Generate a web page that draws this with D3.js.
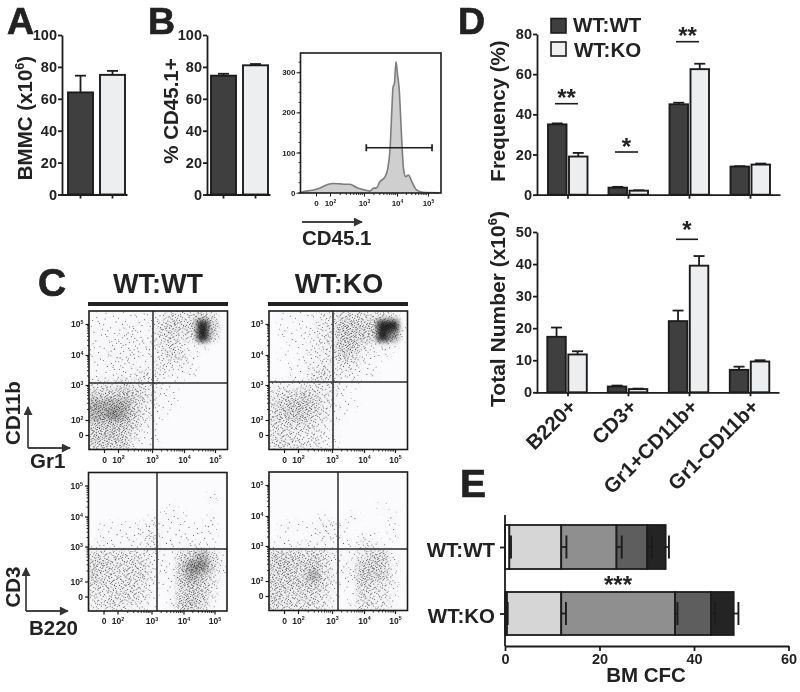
<!DOCTYPE html>
<html><head><meta charset="utf-8">
<script src="https://cdn.jsdelivr.net/npm/d3@7"></script>
<style>
html,body{margin:0;padding:0;background:#fff}
svg{display:block;filter:blur(0.35px)}
text{font-family:"Liberation Sans",Arial,sans-serif;font-weight:bold;fill:#222}
</style></head><body>
<script>
// ---------- data ----------
const bmmc = [64, 75], bmmcErr = [10.5, 2.5];
const cd451 = [74.5, 81], cd451Err = [1.2, 0.8];
const lineages = ["B220+", "CD3+", "Gr1+CD11b+", "Gr1-CD11b+"];
const freqWT = [35, 3.5, 45, 14], freqWTErr = [0.5, 0.4, 0.8, 0.2];
const freqKO = [19, 2, 62.5, 15], freqKOErr = [1.8, 0.2, 2.7, 0.5];
const totalWT = [17.3, 1.8, 22.2, 7], totalWTErr = [2.9, 0.3, 3.3, 1];
const totalKO = [11.8, 1, 39.5, 9.6], totalKOErr = [1, 0.15, 3, 0.4];
const histDecade = [-0.1,0.02,0.72,1.3,1.88,2.1,2.29,2.44,2.58,2.78,2.97,3.18,3.28,3.38,3.48,3.64,3.72,3.79,3.85,3.88,3.92,3.97,4.02,4.07,4.14,4.21,4.28,4.37,4.47,4.63,4.84,5.37];
const histCount  = [0,2,6,12,21,23,22,21,21,13,8,4,11,12,27,40,60,110,217,263,271,326,292,259,151,60,40,44,29,7,1,0];
const gate = [3.07, 5.13], gateCount = 112;
const cfcGroups = ["WT:WT", "WT:KO"];
const cfcColors = ["#ffffff", "#d6d6d6", "#8f8f8f", "#5e5e5e", "#242424"];
const cfcWT = [0.92, 10.98, 11.7, 6.5, 3.9];
const cfcKO = [0.42, 11.48, 24.1, 7.6, 4.8];
const cfcWTErr = [0.35, 1.1, 1.1, 1.0, 0.7];
const cfcKOErr = [0.15, 1.0, 0.5, 0.9, 1.0];
// hand-read darkness of each flow plot on a 14 x 14 grid (0 empty .. 9 solid)
const gridGr1WT = ["11111112434530","11112124545960","11122124434950","11222223421200","11222123431000","11221113221000","11122332111000","33343331100000","55565421100000","77775321100000","77875311000000","66664210000000","66653110000000","55552110000000"];
const gridGr1KO = ["01111234443430","01011336656991","01112336655981","00112336632210","01012235421100","00112323311000","00113432211000","22223331100000","34454321000000","45665321100000","45664311000000","44443210000000","34333210000000","44433210000000"];
const gridCd3WT = ["00000000000000","00000000000000","00000000000010","00000000100000","00000011110010","01111221111110","01111231111110","22111131112210","44444321146741","55444421168851","54444421167631","44444311156530","33444310156520","33432210166410"];
const gridCd3KO = ["00000000000000","00000000000000","00000000000000","00000000000100","00000100100010","01111221000010","01001221011010","11121111132100","55545421135510","56556421256520","55547421265520","55555421154320","54444310143310","54444310143310"];
const decades = [1, 2, 3, 4, 5];
const decadeLabels = ["0", "10^2", "10^3", "10^4", "10^5"];
const histTicks = [0, 100, 200, 300];

// ---------- page ----------
const svg = d3.select("body").append("svg").attr("width", 800).attr("height", 692);
const defs = svg.append("defs");
const INK = "#1c1c1c", DARK = "#3f3f3f", LIGHT = "#eceef0";

function label(x, y, t, size, anchor, rot) {
  const s = svg.append("text").attr("font-size", size).attr("text-anchor", anchor || "start");
  if (rot !== undefined) s.attr("transform", `translate(${x},${y}) rotate(${rot})`);
  else s.attr("x", x).attr("y", y);
  return supText(s, t, size);
}
function supText(s, t, size) {
  const parts = t.split("^");
  s.text(null);
  s.append("tspan").text(parts[0]);
  if (parts[1]) {
    const m = parts[1].match(/^(\d)(.*)$/);
    s.append("tspan").attr("dy", -size * 0.38).attr("font-size", size * 0.62).text(m[1]);
    if (m[2]) s.append("tspan").attr("dy", size * 0.38).text(m[2]);
  }
  return s;
}
function styleAxis(g, size, w) {
  g.select(".domain").attr("stroke", INK).attr("stroke-width", w);
  g.selectAll(".tick line").attr("stroke", INK).attr("stroke-width", w);
  g.selectAll(".tick text").attr("font-size", size).attr("fill", "#222").attr("font-family", '"Liberation Sans",Arial,sans-serif').attr("font-weight", "bold");
}
function yAxis(x, scale, ticks) {
  const g = svg.append("g").attr("transform", `translate(${x},0)`)
    .call(d3.axisLeft(scale).tickValues(ticks).tickSize(4).tickSizeOuter(0).tickPadding(1));
  styleAxis(g, 14.5, 1.8);
  return g;
}
function xBaseline(x0, x1, y, ticks) {
  const s = d3.scaleIdentity().domain([x0, x1]);
  const g = svg.append("g").attr("transform", `translate(0,${y})`)
    .call(d3.axisBottom(s).tickValues(ticks).tickSize(4).tickSizeOuter(0).tickFormat(""));
  styleAxis(g, 14, 1.8);
}
function bar(x, w, yScale, v, e, fill) {
  const y0 = yScale(0), yT = yScale(v), yE = yScale(v + e), cx = x + w / 2;
  svg.append("line").attr("x1", cx).attr("x2", cx).attr("y1", yT).attr("y2", yE).attr("stroke", INK).attr("stroke-width", 1.8);
  svg.append("line").attr("x1", cx - 5.5).attr("x2", cx + 5.5).attr("y1", yE).attr("y2", yE).attr("stroke", INK).attr("stroke-width", 1.8);
  svg.append("rect").attr("x", x).attr("y", yT).attr("width", w).attr("height", y0 - yT)
    .attr("fill", fill).attr("stroke", INK).attr("stroke-width", 1.9);
}
function sig(x0, x1, y, stars, starY) {
  svg.append("line").attr("x1", x0).attr("x2", x1).attr("y1", y).attr("y2", y).attr("stroke", INK).attr("stroke-width", 1.6);
  label((x0 + x1) / 2, starY, stars, 24, "middle");
}

// ---------- panel letters ----------
label(7, 34, "A", 37.5).style("stroke", "#222").style("stroke-width", 0.7);
label(148, 34, "B", 37.5).style("stroke", "#222").style("stroke-width", 0.7);
label(38, 296, "C", 39).style("stroke", "#222").style("stroke-width", 0.7);
label(458, 34, "D", 37.5).style("stroke", "#222").style("stroke-width", 0.7);
label(460, 497, "E", 39).style("stroke", "#222").style("stroke-width", 0.7);

// ---------- A, B ----------
const yA = d3.scaleLinear().domain([0, 100]).range([194.5, 35]);
const tA = [0, 20, 40, 60, 80, 100];
function twoBars(axisX, vals, errs, x1, x2, tick1, tick2, end) {
  bar(x1, 25, yA, vals[0], errs[0], DARK);
  bar(x2, 25, yA, vals[1], errs[1], LIGHT);
  xBaseline(axisX - 2, end, 194.5, [tick1, tick2]);
  yAxis(axisX, yA, tA);
}
twoBars(62, bmmc, bmmcErr, 68, 100, 80, 112, 127);
twoBars(207, cd451, cd451Err, 211, 243, 223, 255, 270);
label(32, 118, "BMMC (x10^6)", 20.5, "middle", -90);
label(178, 111, "% CD45.1+", 20.5, "middle", -90);

// ---------- flow helpers ----------
function flowAxes(left, top, right, bottom, xS, yS, labelSize) {
  const minor = [];
  [2, 3, 4].forEach(d => d3.range(2, 10).forEach(m => minor.push(d + Math.log10(m))));
  const gx = svg.append("g").attr("transform", `translate(0,${bottom})`)
    .call(d3.axisBottom(xS).tickValues(decades).tickSize(3.5).tickSizeOuter(0).tickPadding(3.5));
  const gy = svg.append("g").attr("transform", `translate(${left},0)`)
    .call(d3.axisLeft(yS).tickValues(decades).tickSize(3.5).tickSizeOuter(0).tickPadding(2));
  [gx, gy].forEach(g => {
    styleAxis(g, labelSize, 1.2);
    g.select(".domain").attr("stroke", "none");
    g.selectAll(".tick text").each(function (d, i) { supText(d3.select(this), decadeLabels[i], labelSize); });
  });
  const mx = svg.append("g").attr("stroke", INK).attr("stroke-width", 0.9);
  minor.forEach(d => {
    mx.append("line").attr("x1", xS(d)).attr("x2", xS(d)).attr("y1", bottom).attr("y2", bottom + 2);
    mx.append("line").attr("y1", yS(d)).attr("y2", yS(d)).attr("x1", left).attr("x2", left - 2);
  });
}
// stipple texture: nine tiles of fine dots (Halton sequence, no randomness);
// a cell of darkness d shows d of the tiles, so a density reading thins or thickens the stipple
function halton(i, b) { let f = 1, r = 0; while (i > 0) { f /= b; r += f * (i % b); i = Math.floor(i / b); } return r; }
const tile = 59, dotsPerLevel = [90, 110, 170, 200, 200, 200, 200, 200, 200];
let dotIndex = 1;
d3.range(1, 10).forEach(level => {
  const p = defs.append("pattern").attr("id", "stipple" + level).attr("width", tile).attr("height", tile).attr("patternUnits", "userSpaceOnUse");
  d3.range(dotsPerLevel[level - 1]).forEach(() => {
    const i = dotIndex++;
    p.append("circle").attr("cx", halton(i, 2) * tile).attr("cy", halton(i, 3) * tile)
      .attr("r", 0.52).attr("fill", "#0a0a0a").attr("fill-opacity", 0.72);
  });
});
defs.append("filter").attr("id", "soft").attr("x", "-10%").attr("y", "-10%").attr("width", "120%").attr("height", "120%")
  .append("feGaussianBlur").attr("stdDeviation", 2.6);

function flowPlot(id, left, top, crossX, crossY, grid) {
  const w = 138.5, h = 138.5, right = left + w, bottom = top + h;
  const xS = d3.scaleLinear().domain(decades).range([left + 15, left + 29, left + 63, left + 95, left + 126]);
  const yS = d3.scaleLinear().domain(decades).range([top + 124, top + 109, top + 74, top + 44, top + 13]);
  const cellX = d3.scaleBand().domain(d3.range(14)).range([left, right]);
  const cellY = d3.scaleBand().domain(d3.range(14)).range([top, bottom]);
  defs.append("clipPath").attr("id", "clip" + id).append("rect").attr("x", left).attr("y", top).attr("width", w).attr("height", h);
  svg.append("rect").attr("x", left).attr("y", top).attr("width", w).attr("height", h).attr("fill", "#fbfbfd");
  const cells = [];
  grid.forEach((row, r) => row.split("").forEach((c, col) => cells.push({ r, col, d: +c })));
  const under = d3.scaleLinear().domain([0, 6, 8, 9]).range([0, 0.06, 0.3, 0.85]);
  const paint = (g, data, op, colour) => g.selectAll("rect").data(data).join("rect")
    .attr("x", c => cellX(c.col) - 0.5).attr("y", c => cellY(c.r) - 0.5)
    .attr("width", cellX.bandwidth() + 1).attr("height", cellY.bandwidth() + 1)
    .attr("fill", colour).attr("fill-opacity", op);
  const host = svg.append("g").attr("clip-path", `url(#clip${id})`);
  paint(host.append("g").attr("filter", "url(#soft)"), cells, c => under(c.d), "#111");
  d3.range(1, 10).forEach(level => {
    const mask = defs.append("mask").attr("id", `mask${id}${level}`).attr("maskUnits", "userSpaceOnUse")
      .attr("x", left).attr("y", top).attr("width", w).attr("height", h);
    paint(mask.append("g").attr("filter", "url(#soft)"), cells.filter(c => c.d >= level), 1, "#fff");
    host.append("rect").attr("x", left).attr("y", top).attr("width", w).attr("height", h)
      .attr("fill", `url(#stipple${level})`).attr("mask", `url(#mask${id}${level})`);
  });
  svg.append("line").attr("x1", crossX).attr("x2", crossX).attr("y1", top).attr("y2", bottom).attr("stroke", "#2a2a2a").attr("stroke-width", 1.5);
  svg.append("line").attr("x1", left).attr("x2", right).attr("y1", crossY).attr("y2", crossY).attr("stroke", "#2a2a2a").attr("stroke-width", 1.5);
  svg.append("rect").attr("x", left).attr("y", top).attr("width", w).attr("height", h).attr("fill", "none").attr("stroke", INK).attr("stroke-width", 1.6);
  flowAxes(left, top, right, bottom, xS, yS, 8.5);
}
flowPlot("a", 89, 311, 153, 383, gridGr1WT);
flowPlot("b", 269, 311, 333, 382, gridGr1KO);
flowPlot("c", 88.5, 472.5, 157, 549, gridCd3WT);
flowPlot("d", 269, 472, 338, 549, gridCd3KO);

// ---------- histogram ----------
const hx = d3.scaleLinear().domain(decades).range([316, 330, 364, 397, 428]);
const hy = d3.scaleLinear().domain([0, 300]).range([192.7, 72.3]);
const histPts = d3.zip(histDecade, histCount);
svg.append("path").datum(histPts)
  .attr("d", d3.area().x(d => hx(d[0])).y0(hy(0)).y1(d => hy(d[1])).curve(d3.curveMonotoneX))
  .attr("fill", "#cfcfcf");
svg.append("path").datum(histPts)
  .attr("d", d3.line().x(d => hx(d[0])).y(d => hy(d[1])).curve(d3.curveMonotoneX))
  .attr("fill", "none").attr("stroke", "#7d7d7d").attr("stroke-width", 1.6);
const gy = hy(gateCount);
svg.append("line").attr("x1", hx(gate[0])).attr("x2", hx(gate[1])).attr("y1", gy).attr("y2", gy).attr("stroke", INK).attr("stroke-width", 1.7);
gate.forEach(g => svg.append("line").attr("x1", hx(g)).attr("x2", hx(g)).attr("y1", gy - 3.5).attr("y2", gy + 3.5).attr("stroke", INK).attr("stroke-width", 1.7));
svg.append("rect").attr("x", 300.5).attr("y", 53).attr("width", 140.5).attr("height", 140).attr("fill", "none").attr("stroke", INK).attr("stroke-width", 1.6);
{
  const g = svg.append("g").attr("transform", "translate(300.5,0)")
    .call(d3.axisLeft(hy).tickValues(histTicks).tickSize(4).tickSizeOuter(0).tickPadding(1));
  styleAxis(g, 8, 1); g.select(".domain").attr("stroke", "none");
  const gb = svg.append("g").attr("transform", "translate(0,193)")
    .call(d3.axisBottom(hx).tickValues(decades).tickSize(3.5).tickSizeOuter(0).tickPadding(4));
  styleAxis(gb, 8, 1); gb.select(".domain").attr("stroke", "none");
  gb.selectAll(".tick text").each(function (d, i) { supText(d3.select(this), decadeLabels[i], 8); });
  const m = svg.append("g").attr("stroke", INK).attr("stroke-width", 0.9);
  [2, 3, 4].forEach(dk => d3.range(2, 10).forEach(k => {
    const d = dk + Math.log10(k);
    m.append("line").attr("x1", hx(d)).attr("x2", hx(d)).attr("y1", 193).attr("y2", 195);
  }));
  d3.range(0, 340, 25).forEach(v => m.append("line").attr("x1", 300.5).attr("x2", 298.5).attr("y1", hy(v)).attr("y2", hy(v)));
}

// arrows and axis captions
defs.append("marker").attr("id", "arrow").attr("viewBox", "0 0 10 10").attr("refX", 9).attr("refY", 5)
  .attr("markerWidth", 10).attr("markerHeight", 9).attr("markerUnits", "userSpaceOnUse").attr("orient", "auto")
  .append("path").attr("d", "M0,0L10,5L0,10z").attr("fill", "#333");
function arrow(x1, y1, x2, y2) {
  svg.append("line").attr("x1", x1).attr("y1", y1).attr("x2", x2).attr("y2", y2)
    .attr("stroke", "#444").attr("stroke-width", 1.8).attr("marker-end", "url(#arrow)");
}
arrow(302, 222, 362, 222);
label(302, 245, "CD45.1", 20.5);
arrow(28, 448, 28, 407); arrow(28, 448, 70, 448);
label(20, 413, "CD11b", 20.5, "middle", -90);
label(30, 468, "Gr1", 20.5);
arrow(26, 611, 26, 568); arrow(26, 611, 68, 611);
label(20, 587, "CD3", 20.5, "middle", -90);
label(29, 635, "B220", 20.5);

// C headers
label(158, 293, "WT:WT", 27, "middle");
label(339, 293, "WT:KO", 27, "middle");
svg.append("rect").attr("x", 88).attr("y", 302).attr("width", 140).attr("height", 4).attr("fill", "#222");
svg.append("rect").attr("x", 268).attr("y", 302).attr("width", 140).attr("height", 4).attr("fill", "#222");

// ---------- D ----------
const tickD = [567.5, 628, 689, 750];
function groupBars(yS, wt, wtE, ko, koE, shift) {
  lineages.forEach((c, i) => {
    bar(tickD[i] - 19.5 + shift, 18.5, yS, wt[i], wtE[i], DARK);
    bar(tickD[i] + 1.5 + shift, 18.5, yS, ko[i], koE[i], LIGHT);
  });
}
const yF = d3.scaleLinear().domain([0, 80]).range([194.7, 34]);
groupBars(yF, freqWT, freqWTErr, freqKO, freqKOErr, 0);
xBaseline(535, 780, 194.7, tickD);
yAxis(537, yF, [0, 20, 40, 60, 80]);
sig(555, 578, 103.7, "**", 106);
sig(615, 638, 152, "*", 155);
sig(676, 699, 41.7, "**", 44);
label(505, 111, "Frequency (%)", 20.5, "middle", -90);

const yT = d3.scaleLinear().domain([0, 50]).range([392.3, 232]);
groupBars(yT, totalWT, totalWTErr, totalKO, totalKOErr, -0.7);
xBaseline(535, 779, 392.3, tickD);
yAxis(537, yT, [0, 10, 20, 30, 40, 50]);
sig(676, 698, 239.3, "*", 238);
label(505, 309, "Total Number (x10^6)", 21, "middle", -90);
lineages.forEach((c, i) => label(tickD[i] + 10, 408, c, 20.5, "end", -45));

// legend
svg.append("rect").attr("x", 551).attr("y", 18.5).attr("width", 15).attr("height", 14.5).attr("fill", DARK).attr("stroke", INK).attr("stroke-width", 1.6);
svg.append("rect").attr("x", 551).attr("y", 42).attr("width", 15).attr("height", 14).attr("fill", LIGHT).attr("stroke", INK).attr("stroke-width", 1.6);
label(573, 32, cfcGroups[0], 20.5);
label(574, 57, cfcGroups[1], 20.5);

// ---------- E ----------
const xE = d3.scaleLinear().domain([0, 60]).range([505, 788.5]);
const rowY = { "WT:WT": [525, 569], "WT:KO": [592, 635] };
[[cfcGroups[0], cfcWT, cfcWTErr], [cfcGroups[1], cfcKO, cfcKOErr]].forEach(([name, vals, errs]) => {
  const [y0, y1] = rowY[name], mid = (y0 + y1) / 2;
  let acc = 0;
  const ends = vals.map(v => (acc += v));
  ends.forEach((end, i) => {
    const start = i ? ends[i - 1] : 0;
    svg.append("rect").attr("x", xE(start)).attr("y", y0).attr("width", xE(end) - xE(start)).attr("height", y1 - y0)
      .attr("fill", cfcColors[i]).attr("stroke", INK).attr("stroke-width", 1.8);
  });
  ends.forEach((end, i) => {
    const e = xE(end + errs[i]);
    svg.append("line").attr("x1", xE(end)).attr("x2", e).attr("y1", mid).attr("y2", mid).attr("stroke", INK).attr("stroke-width", 1.7);
    svg.append("line").attr("x1", e).attr("x2", e).attr("y1", mid - 11.5).attr("y2", mid + 11.5).attr("stroke", INK).attr("stroke-width", 1.9);
  });
});
{
  const gx = svg.append("g").attr("transform", "translate(0,646)")
    .call(d3.axisBottom(xE).tickValues([0, 20, 40, 60]).tickSize(5).tickSizeOuter(0).tickPadding(3));
  styleAxis(gx, 14.5, 1.8);
  const yPos = d3.scalePoint().domain(cfcGroups).range([547, 613.5]);
  const gy2 = svg.append("g").attr("transform", "translate(505,0)")
    .call(d3.axisLeft(yPos).tickSize(5).tickSizeOuter(0).tickFormat(""));
  styleAxis(gy2, 14, 1.8);
  gy2.select(".domain").attr("d", "M0,515V646");
  label(495, 557, cfcGroups[0], 20.5, "end");
  label(495, 623, cfcGroups[1], 20.5, "end");
  label(646, 682, "BM CFC", 20.5, "middle");
  label(618, 593, "***", 24, "middle");
}
</script></body></html>
